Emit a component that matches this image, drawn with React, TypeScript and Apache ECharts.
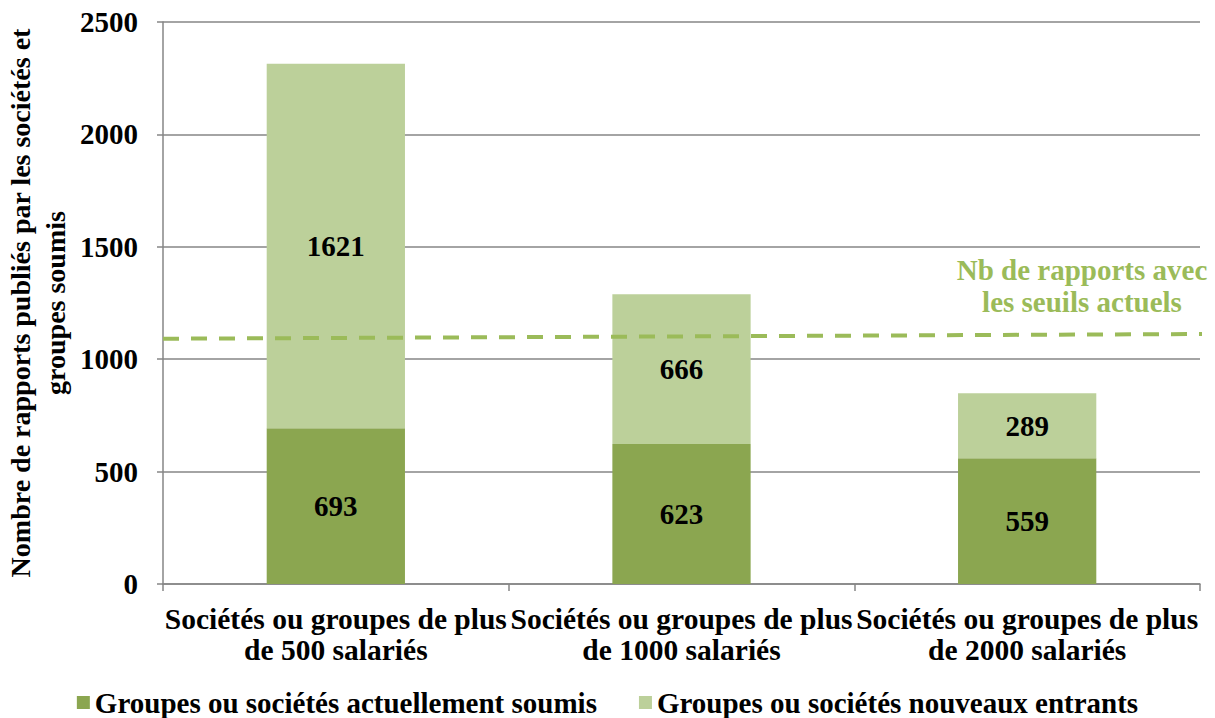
import React, { useEffect, useRef } from "react";
import * as echarts from "echarts";

const categories = [
  "Sociétés ou groupes de plus\nde 500 salariés",
  "Sociétés ou groupes de plus\nde 1000 salariés",
  "Sociétés ou groupes de plus\nde 2000 salariés",
];
const seriesNames = [
  "Groupes ou sociétés actuellement soumis",
  "Groupes ou sociétés nouveaux entrants",
];
const actuels = [693, 623, 559];
const nouveaux = [1621, 666, 289];
// dashed reference line: [relative x position, value]
const seuilLine = [
  [0, 1091],
  [1.006, 1112],
];
const seuilLabel = "Nb de rapports avec\nles seuils actuels";
const yTitle = "Nombre de rapports publiés par les sociétés et\ngroupes soumis";

const FONT = "'Liberation Serif', serif";

export default function App() {
  const ref = useRef<HTMLDivElement>(null);
  useEffect(() => {
    if (!ref.current) return;
    const chart = echarts.init(ref.current, undefined, { renderer: "svg" });
    const axisColor = "#868686";
    chart.setOption({
      animation: false,
      textStyle: { fontFamily: FONT, fontWeight: "bold", color: "#000" },
      grid: { left: 163, right: 15, top: 22, bottom: 134, containLabel: false, outerBoundsMode: "none" },
      legend: {
        bottom: -4,
        left: "center",
        itemWidth: 13,
        itemHeight: 13,
        itemGap: 42,
        icon: "rect",
        textStyle: { fontFamily: FONT, fontWeight: "bold", fontSize: 29, color: "#000" },
        data: seriesNames,
      },
      xAxis: [
        {
          type: "category",
          data: categories,
          axisLine: { lineStyle: { color: axisColor, width: 1.5 } },
          axisTick: { show: true, length: 7, lineStyle: { color: axisColor, width: 1.5 } },
          axisLabel: {
            interval: 0,
            margin: 19,
            fontFamily: FONT,
            fontWeight: "bold",
            fontSize: 29.5,
            lineHeight: 31,
            color: "#000",
          },
        },
        { type: "value", min: 0, max: 1, show: false },
      ],
      yAxis: {
        type: "value",
        min: 0,
        max: 2500,
        interval: 500,
        name: yTitle,
        nameLocation: "middle",
        nameGap: 90,
        nameRotate: 90,
        nameMoveOverlap: false,
        nameTextStyle: {
          fontFamily: FONT,
          fontWeight: "bold",
          fontSize: 28,
          lineHeight: 35,
          color: "#000",
          align: "center",
        },
        axisLine: { show: true, lineStyle: { color: axisColor, width: 1.5 } },
        axisTick: { show: true, length: 6, lineStyle: { color: axisColor, width: 1.5 } },
        splitLine: { lineStyle: { color: axisColor, width: 1.5 } },
        axisLabel: {
          margin: 25,
          formatter: (v: number) => String(v),
          fontFamily: FONT,
          fontWeight: "bold",
          fontSize: 29,
          color: "#000",
        },
      },
      series: [
        {
          name: seriesNames[0],
          type: "bar",
          stack: "total",
          data: actuels,
          barWidth: "40%",
          itemStyle: { color: "#8ba650" },
          label: {
            show: true,
            position: "inside",
            fontFamily: FONT,
            fontWeight: "bold",
            fontSize: 29,
            color: "#000",
          },
        },
        {
          name: seriesNames[1],
          type: "bar",
          stack: "total",
          data: nouveaux,
          barWidth: "40%",
          itemStyle: { color: "#bcd09a" },
          label: {
            show: true,
            position: "inside",
            fontFamily: FONT,
            fontWeight: "bold",
            fontSize: 29,
            color: "#000",
          },
        },
        {
          name: "seuil",
          type: "line",
          xAxisIndex: 1,
          data: seuilLine,
          symbol: "none",
          clip: false,
          silent: true,
          z: 5,
          lineStyle: { color: "#9bbb59", width: 4, type: [16, 12] },
        },
      ],
      graphic: [
        {
          type: "text",
          x: 1082,
          y: 286,
          z: 10,
          style: {
            text: seuilLabel,
            fill: "#9bbb59",
            font: `bold 29px ${FONT}`,
            lineHeight: 32,
            align: "center",
            verticalAlign: "middle",
          },
        },
      ],
    });
    return () => chart.dispose();
  }, []);
  return (
    <div
      ref={ref}
      style={{ position: "fixed", left: 0, top: 0, width: 1215, height: 718, background: "#fff" }}
    />
  );
}
